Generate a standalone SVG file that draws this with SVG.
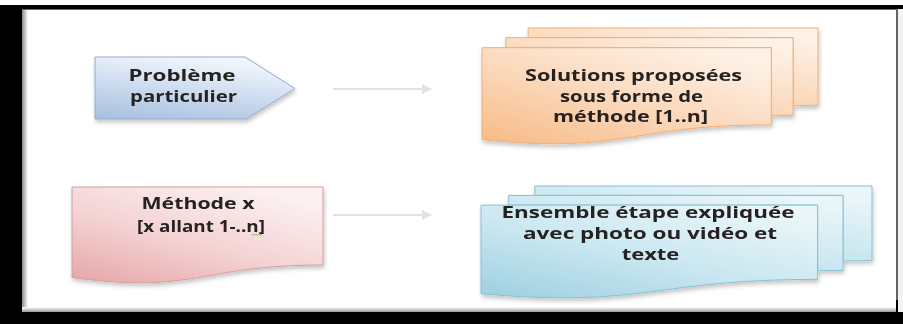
<svg xmlns="http://www.w3.org/2000/svg" width="903" height="324" viewBox="0 0 903 324">
  <defs>
    <style>
      .label { font-family: "Open Sans", "Liberation Sans", sans-serif; font-weight: bold; font-size: 15.5px; fill: #262322; text-anchor: middle; }
      .flow { stroke: #e2e2e2; stroke-width: 2; fill: none; marker-end: url(#head); }
      .pent { fill: url(#gPent); stroke: #93acd0; stroke-width: 1; }
      .pink { fill: url(#gPink); stroke: #d59c9e; stroke-width: 1; }
      .orange { fill: url(#gOrange); stroke: #efae78; stroke-width: 1; }
      .cyan { fill: url(#gCyan); stroke: #86c0d4; stroke-width: 1; }
    </style>
    <marker id="head" viewBox="0 0 10 10" refX="9" refY="5" markerWidth="5" markerHeight="5" orient="auto" markerUnits="strokeWidth">
      <path d="M0,0 L10,5 L0,10 Z" fill="#e2e2e2"/>
    </marker>
    <filter id="shadow" x="-10%" y="-10%" width="125%" height="135%">
      <feDropShadow dx="1" dy="3" stdDeviation="2" flood-color="#000" flood-opacity="0.22"/>
    </filter>
    <linearGradient id="gPent" x1="0" y1="1" x2="0.35" y2="0">
      <stop offset="0" stop-color="#a6bfdf"/>
      <stop offset="0.55" stop-color="#cddcef"/>
      <stop offset="1" stop-color="#eef4fb"/>
    </linearGradient>
    <linearGradient id="gPink" x1="0" y1="1" x2="0.7" y2="0">
      <stop offset="0" stop-color="#e6a6a8"/>
      <stop offset="0.5" stop-color="#f4d2d3"/>
      <stop offset="1" stop-color="#fcf0f0"/>
    </linearGradient>
    <linearGradient id="gOrange" x1="0" y1="1" x2="0.8" y2="0">
      <stop offset="0" stop-color="#f7ba86"/>
      <stop offset="0.5" stop-color="#fbd8ba"/>
      <stop offset="1" stop-color="#fef2e8"/>
    </linearGradient>
    <linearGradient id="gCyan" x1="0" y1="1" x2="0.8" y2="0">
      <stop offset="0" stop-color="#9dcfe1"/>
      <stop offset="0.5" stop-color="#c9e7f0"/>
      <stop offset="1" stop-color="#ebf6f9"/>
    </linearGradient>
    <linearGradient id="gLeftShade" x1="0" y1="0" x2="1" y2="0">
      <stop offset="0" stop-color="#8a8a8a"/>
      <stop offset="1" stop-color="#ffffff"/>
    </linearGradient>
    <linearGradient id="gBottomShade" x1="0" y1="0" x2="0" y2="1">
      <stop offset="0" stop-color="#ffffff"/>
      <stop offset="1" stop-color="#9a9a9a"/>
    </linearGradient>
  </defs>

  <!-- page frame -->
  <g id="frame">
    <rect x="0" y="0" width="903" height="324" fill="#ffffff"/>
    <rect x="0" y="5" width="903" height="319" fill="#000000"/>
    <rect x="22" y="9" width="874" height="303" fill="#ffffff"/>
    <rect x="898" y="9" width="5" height="303" fill="#f3f3f3"/>
    <line x1="897" y1="9" x2="897" y2="300" stroke="#a8a8a8" stroke-width="1.2"/>
    <rect x="22" y="9" width="6" height="303" fill="url(#gLeftShade)"/>
    <rect x="22" y="307" width="874" height="5" fill="url(#gBottomShade)"/>
    <rect x="22" y="9" width="874" height="1" fill="#6a6a6a"/>
  </g>

  <!-- connectors -->
  <g id="connectors">
    <line class="flow" x1="333" y1="89" x2="431" y2="89"/>
    <line class="flow" x1="333" y1="215" x2="431" y2="215"/>
  </g>

  <!-- pentagon: Problème particulier -->
  <g id="node-probleme" filter="url(#shadow)">
    <path class="pent" d="M95,57 L245,57 L295,88.5 L246.5,119 L95,119 Z"/>
    <text class="label" x="182" y="81" textLength="107" lengthAdjust="spacingAndGlyphs">Problème</text>
    <text class="label" x="183.5" y="102" textLength="107" lengthAdjust="spacingAndGlyphs">particulier</text>
  </g>

  <!-- document: Méthode x -->
  <g id="node-methode" filter="url(#shadow)">
    <path class="pink" d="M72,187 L323,187 L323,265 C197.5,265 197.5,294.4 72,277.6 Z"/>
    <text class="label" x="198" y="209" textLength="113" lengthAdjust="spacingAndGlyphs">Méthode x</text>
    <text class="label" x="201" y="232" textLength="128" lengthAdjust="spacingAndGlyphs">[x allant 1-..n]</text>
    <path d="M251.5,235.5 l1.5,-1.5 l1.5,1.5 l1.5,-1.5 l1.5,1.5 l1.5,-1.5 l1.5,1.5 l1.5,-1.5" fill="none" stroke="#72b84c" stroke-width="0.9"/>
  </g>

  <!-- multi-document: Solutions proposées -->
  <g id="node-solutions" filter="url(#shadow)">
    <path class="orange" d="M528.2,37.7 L528.2,28 L818,28 L818,105.3 C805.6,105.3 793.1,105.7 793.1,105.7 L793.1,37.7 Z"/>
    <path class="orange" d="M505.8,47.7 L505.8,37.7 L793.1,37.7 L793.1,115.3 C782.2,115.3 771.3,115.8 771.3,115.8 L771.3,47.7 Z"/>
    <path class="orange" d="M482,139.6 C626.6,154.4 626.6,124.8 771.3,124.8 L771.3,47.7 L482,47.7 Z"/>
    <text class="label" x="633.5" y="81" textLength="217" lengthAdjust="spacingAndGlyphs">Solutions proposées</text>
    <text class="label" x="631.5" y="102" textLength="143" lengthAdjust="spacingAndGlyphs">sous forme de</text>
    <text class="label" x="630.5" y="122" textLength="155" lengthAdjust="spacingAndGlyphs">méthode [1..n]</text>
  </g>

  <!-- multi-document: Ensemble étape expliquée -->
  <g id="node-ensemble" filter="url(#shadow)">
    <path class="cyan" d="M534.8,195.4 L534.8,186 L872,186 L872,260.6 C857.5,260.6 843,261 843,261 L843,195.4 Z"/>
    <path class="cyan" d="M508.7,205.1 L508.7,195.4 L843,195.4 L843,270.3 C830.3,270.3 817.6,270.8 817.6,270.8 L817.6,205.1 Z"/>
    <path class="cyan" d="M481,293.8 C649.3,308.1 649.3,279.4 817.6,279.4 L817.6,205.1 L481,205.1 Z"/>
    <text class="label" x="648" y="218" textLength="293" lengthAdjust="spacingAndGlyphs">Ensemble étape expliquée</text>
    <text class="label" x="650" y="239" textLength="254" lengthAdjust="spacingAndGlyphs">avec photo ou vidéo et</text>
    <text class="label" x="650.5" y="260" textLength="57.7" lengthAdjust="spacingAndGlyphs">texte</text>
  </g>
</svg>
